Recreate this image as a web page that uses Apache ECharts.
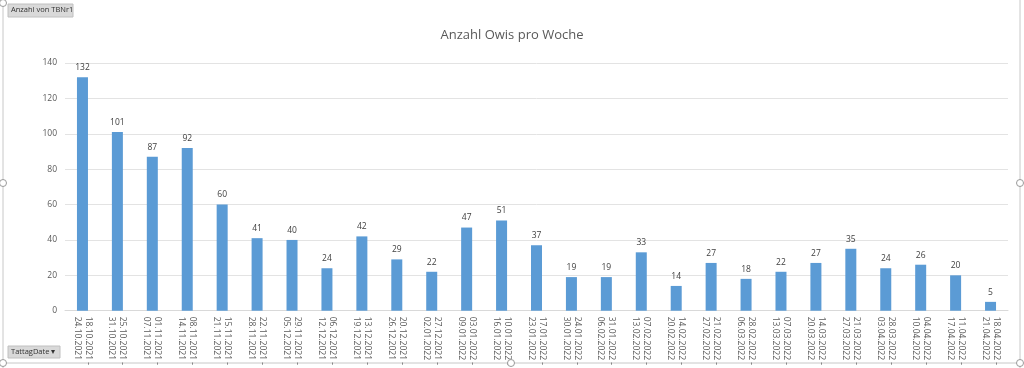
<!DOCTYPE html>
<html>
<head>
<meta charset="utf-8">
<script src="https://cdn.jsdelivr.net/npm/echarts@6/dist/echarts.min.js"></script>
<style>
html,body{margin:0;padding:0;background:#fff;}
#c{width:1024px;height:368px;}
</style>
</head>
<body>
<div id="c"></div>
<script>
const categories = [
 "18.10.2021 -\n24.10.2021","25.10.2021 -\n31.10.2021","01.11.2021 -\n07.11.2021","08.11.2021 -\n14.11.2021",
 "15.11.2021 -\n21.11.2021","22.11.2021 -\n28.11.2021","29.11.2021 -\n05.12.2021","06.12.2021 -\n12.12.2021",
 "13.12.2021 -\n19.12.2021","20.12.2021 -\n26.12.2021","27.12.2021 -\n02.01.2022","03.01.2022 -\n09.01.2022",
 "10.01.2022 -\n16.01.2022","17.01.2022 -\n23.01.2022","24.01.2022 -\n30.01.2022","31.01.2022 -\n06.02.2022",
 "07.02.2022 -\n13.02.2022","14.02.2022 -\n20.02.2022","21.02.2022 -\n27.02.2022","28.02.2022 -\n06.03.2022",
 "07.03.2022 -\n13.03.2022","14.03.2022 -\n20.03.2022","21.03.2022 -\n27.03.2022","28.03.2022 -\n03.04.2022",
 "04.04.2022 -\n10.04.2022","11.04.2022 -\n17.04.2022","18.04.2022 -\n21.04.2022"
];
const values = [132,101,87,92,60,41,40,24,42,29,22,47,51,37,19,19,33,14,27,18,22,27,35,24,26,20,5];
const titleText = "Anzahl Owis pro Woche";
const valueFieldLabel = "Anzahl von TBNr1";
const axisFieldLabel = "TattagDate ▾";

const chart = echarts.init(document.getElementById('c'), null, {renderer:'canvas'});
const font = "'Open Sans', 'Liberation Sans', sans-serif";
const handle = (x,y)=>({type:'circle', shape:{cx:x,cy:y,r:3.5}, style:{fill:'#fff', stroke:'#9a9a9a', lineWidth:1}, z:10});
chart.setOption({
  animation:false,
  backgroundColor:'#fff',
  title:{text:titleText, left:'center', top:24, textStyle:{fontFamily:font, fontSize:13, fontWeight:'normal', color:'#595959'}},
  grid:{left:65, right:16, top:63, bottom:53, containLabel:false},
  xAxis:{
    type:'category', data:categories,
    axisLine:{lineStyle:{color:'#d9d9d9'}},
    axisTick:{show:false},
    axisLabel:{rotate:-90, interval:0, fontFamily:font, fontSize:8.5, color:'#595959', lineHeight:11, margin:6, align:'left', verticalAlign:'middle'}
  },
  yAxis:{
    type:'value', min:0, max:140, interval:20,
    axisLine:{show:false}, axisTick:{show:false},
    splitLine:{lineStyle:{color:'#e3e3e3'}},
    axisLabel:{fontFamily:font, fontSize:8.5, color:'#595959', margin:8}
  },
  series:[{
    type:'bar', data:values, barWidth:11,
    itemStyle:{color:'#5b9bd5'},
    label:{show:true, position:'top', distance:5, fontFamily:font, fontSize:8.5, color:'#404040'}
  }],
  graphic:[
    {type:'line', shape:{x1:3,y1:0,x2:3,y2:368}, style:{stroke:'#c8c8c8', lineWidth:1}},
    {type:'line', shape:{x1:1020,y1:0,x2:1020,y2:368}, style:{stroke:'#c8c8c8', lineWidth:1}},
    {type:'line', shape:{x1:3,y1:363,x2:1020,y2:363}, style:{stroke:'#c8c8c8', lineWidth:1}},
    {type:'rect', shape:{x:8,y:4,width:65,height:13}, style:{fill:'#d9d9d9', stroke:'#c0c0c0'}},
    {type:'text', x:11, y:6, style:{text:valueFieldLabel, fontFamily:font, fontSize:7.5, fill:'#333'}},
    {type:'rect', shape:{x:8,y:346,width:52,height:12}, style:{fill:'#d9d9d9', stroke:'#c0c0c0'}},
    {type:'text', x:11, y:348, style:{text:axisFieldLabel, fontFamily:font, fontSize:7.5, fill:'#333'}},
    handle(3,3), handle(3,183), handle(3,363), handle(511,363), handle(1020,183), handle(1020,363)
  ]
});
</script>
</body>
</html>
